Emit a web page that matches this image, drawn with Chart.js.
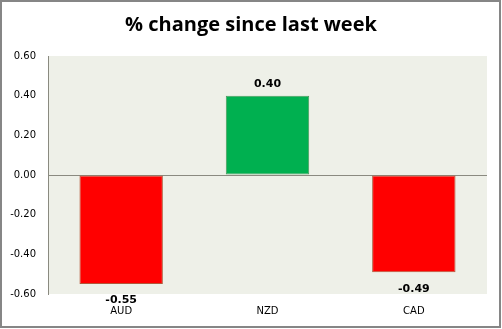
<!DOCTYPE html>
<html>
<head>
<meta charset="utf-8">
<script src="https://cdn.jsdelivr.net/npm/chart.js@4"></script>
<style>
  html, body { margin: 0; padding: 0; background: #fff; }
  #wrap { width: 502px; height: 329px; }
</style>
</head>
<body>
<div id="wrap"><canvas id="chart" width="502" height="329"></canvas></div>
<script>
const title = "% change since last week";
const currencies = ["AUD", "NZD", "CAD"];
const weeklyChange = [-0.55, 0.40, -0.49];
const yTicks = [-0.6, -0.4, -0.2, 0, 0.2, 0.4, 0.6];

const fillFor = v => (v < 0 ? "#ff0000" : "#00b050");
const edgeFor = v => (v < 0 ? "#b0583a" : "#4a9a5c");

// plot background, outer frame, title
const frame = {
  id: "frame",
  beforeDraw(chart) {
    const { ctx, chartArea: a } = chart;
    ctx.save();
    ctx.fillStyle = "#eef0e8";
    ctx.fillRect(a.left, a.top, a.right - a.left, a.bottom - a.top);
    ctx.restore();
  },
  afterDraw(chart) {
    const ctx = chart.ctx;
    ctx.save();
    ctx.strokeStyle = "#868686";
    ctx.lineWidth = 2;
    ctx.strokeRect(1, 1, 499, 326);
    ctx.fillStyle = "#000";
    ctx.font = "bold 20px 'Open Sans'";
    ctx.textAlign = "center";
    ctx.textBaseline = "middle";
    ctx.fillText(title, 251, 25);
    ctx.restore();
  }
};

// value labels above / below each bar
const valueLabels = {
  id: "valueLabels",
  afterDatasetsDraw(chart) {
    const { ctx } = chart;
    const meta = chart.getDatasetMeta(0);
    ctx.save();
    ctx.font = "bold 11px 'DejaVu Sans'";
    ctx.fillStyle = "#000";
    ctx.textAlign = "center";
    meta.data.forEach((bar, i) => {
      const v = weeklyChange[i];
      if (v < 0) {
        ctx.textBaseline = "top";
        ctx.fillText(v.toFixed(2), bar.x, bar.y + 11);
      } else {
        ctx.textBaseline = "bottom";
        ctx.fillText(v.toFixed(2), bar.x, bar.y - 6);
      }
    });
    ctx.restore();
  }
};

new Chart(document.getElementById("chart"), {
  type: "bar",
  data: {
    labels: currencies,
    datasets: [{
      data: weeklyChange,
      backgroundColor: weeklyChange.map(fillFor),
      borderColor: weeklyChange.map(edgeFor),
      borderWidth: 1,
      borderSkipped: false,
      categoryPercentage: 1,
      barPercentage: 0.57
    }]
  },
  options: {
    responsive: false,
    animation: false,
    layout: { padding: { top: 56, right: 15, left: 0, bottom: 0 } },
    plugins: { legend: { display: false }, tooltip: { enabled: false } },
    scales: {
      x: {
        grid: { display: false, drawTicks: false },
        border: { display: false },
        ticks: { color: "#000", font: { family: "DejaVu Sans", size: 10 }, padding: 11 },
        afterFit(scale) { scale.height = 35; }
      },
      y: {
        min: -0.6,
        max: 0.6,
        afterBuildTicks(scale) { scale.ticks = yTicks.map(v => ({ value: v })); },
        grid: {
          drawTicks: false,
          color: ctx => (ctx.tick && Math.abs(ctx.tick.value) < 1e-9 ? "#8a8a80" : "rgba(0,0,0,0)")
        },
        border: { color: "#8a8a80" },
        ticks: {
          color: "#000",
          font: { family: "DejaVu Sans", size: 10 },
          padding: 12,
          callback: v => v.toFixed(2)
        },
        afterFit(scale) { scale.width = 48; }
      }
    }
  },
  plugins: [frame, valueLabels]
});
</script>
</body>
</html>
